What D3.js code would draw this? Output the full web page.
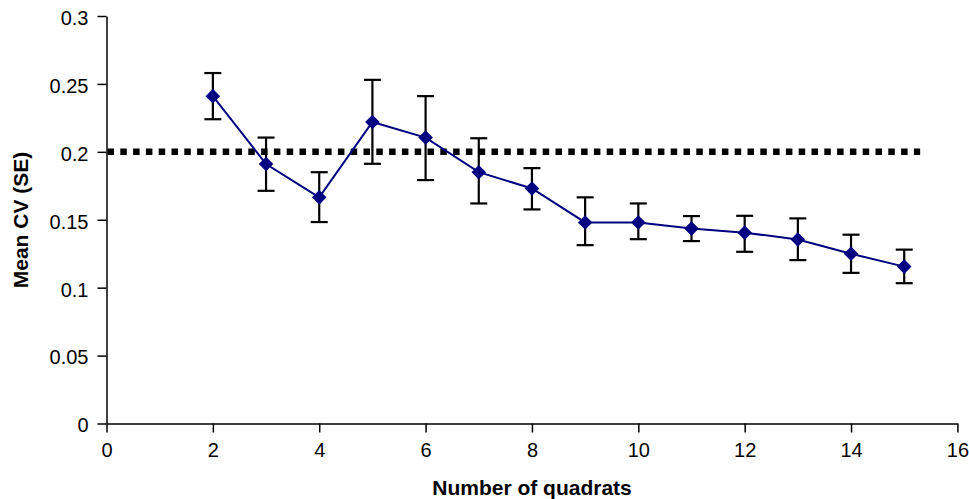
<!DOCTYPE html>
<html>
<head>
<meta charset="utf-8">
<script src="https://cdn.jsdelivr.net/npm/d3@7/dist/d3.min.js"></script>
<style>
body { margin: 0; background: #fff; }
svg { display: block; }
.axis text { font-family: "Liberation Sans", Arial, sans-serif; font-size: 20px; fill: #000; }
.axis path, .axis line { stroke: #000; stroke-width: 1.5px; }
.title { font-family: "Liberation Sans", Arial, sans-serif; font-size: 21px; font-weight: bold; fill: #000; }
</style>
</head>
<body>
<div id="chart"></div>
<script>
// ----------------------------------------------------------
// DATA -----------------------------------------------------
// ----------------------------------------------------------
var quadrats = [2, 3, 4, 5, 6, 7, 8, 9, 10, 11, 12, 13, 14, 15];
var meanCV   = [0.241, 0.191, 0.1665, 0.222, 0.2105, 0.185, 0.173, 0.148, 0.148, 0.1435, 0.1405, 0.1355, 0.125, 0.1155];
var errHigh  = [0.258, 0.2105, 0.185, 0.253, 0.241, 0.21, 0.188, 0.1665, 0.162, 0.1527, 0.1529, 0.151, 0.139, 0.128];
var errLow   = [0.224, 0.1713, 0.1483, 0.1912, 0.1792, 0.162, 0.1576, 0.1313, 0.1357, 0.1343, 0.1264, 0.1203, 0.1109, 0.1033];
// threshold line (x from, x to) at CV = 0.2
var thresholdX = [0, 15.3];
var thresholdY = 0.2;
var xTicks = [0, 2, 4, 6, 8, 10, 12, 14, 16];
var yTicks = [0, 0.05, 0.1, 0.15, 0.2, 0.25, 0.3];
var yTickLabels = ["0", "0.05", "0.1", "0.15", "0.2", "0.25", "0.3"];

// ----------------------------------------------------------
// STRUCTURE ------------------------------------------------
// ----------------------------------------------------------
var width = 969, height = 499;
var svg = d3.select("#chart").append("svg")
  .attr("width", width)
  .attr("height", height);

var xScale = d3.scaleLinear().domain([0, 16]).range([106.5, 957.4]);
var yScale = d3.scaleLinear().domain([0, 0.3]).range([423.5, 16]);

// ----------------------------------------------------------
// AXES -----------------------------------------------------
// ----------------------------------------------------------
svg.append("g")
  .attr("class", "axis")
  .attr("transform", "translate(0," + yScale(0) + ")")
  .call(d3.axisBottom(xScale).tickValues(xTicks).tickSize(9).tickPadding(10).tickSizeOuter(0).tickFormat(d3.format("d")));

svg.append("g")
  .attr("class", "axis")
  .attr("transform", "translate(" + xScale(0) + ",0)")
  .call(d3.axisLeft(yScale).tickValues(yTicks).tickSize(9).tickPadding(9).tickSizeOuter(0)
    .tickFormat(function(d, i) { return yTickLabels[i]; }))
  .call(function(g) { g.selectAll(".tick text").attr("dy", "0.42em"); });

// ----------------------------------------------------------
// GFX ------------------------------------------------------
// ----------------------------------------------------------
// dotted threshold line
svg.append("line")
  .attr("x1", xScale(thresholdX[0]) + 1)
  .attr("x2", xScale(thresholdX[1]))
  .attr("y1", yScale(thresholdY))
  .attr("y2", yScale(thresholdY))
  .style("stroke", "#000")
  .style("stroke-width", 6.5)
  .style("stroke-dasharray", "6.5,6.3");

var points = quadrats.map(function(q, i) {
  return { x: q, y: meanCV[i], hi: errHigh[i], lo: errLow[i] };
});

// error bars
var err = svg.append("g").attr("class", "errorbars")
  .style("stroke", "#000").style("stroke-width", 2.2);
err.selectAll(".stem").data(points).enter().append("line")
  .attr("x1", function(d) { return xScale(d.x); })
  .attr("x2", function(d) { return xScale(d.x); })
  .attr("y1", function(d) { return yScale(d.hi); })
  .attr("y2", function(d) { return yScale(d.lo); });
err.selectAll(".capHi").data(points).enter().append("line")
  .attr("x1", function(d) { return xScale(d.x) - 8.5; })
  .attr("x2", function(d) { return xScale(d.x) + 8.5; })
  .attr("y1", function(d) { return yScale(d.hi); })
  .attr("y2", function(d) { return yScale(d.hi); });
err.selectAll(".capLo").data(points).enter().append("line")
  .attr("x1", function(d) { return xScale(d.x) - 8.5; })
  .attr("x2", function(d) { return xScale(d.x) + 8.5; })
  .attr("y1", function(d) { return yScale(d.lo); })
  .attr("y2", function(d) { return yScale(d.lo); });

// series line
svg.append("path")
  .datum(points)
  .attr("d", d3.line().x(function(d) { return xScale(d.x); }).y(function(d) { return yScale(d.y); }))
  .style("fill", "none")
  .style("stroke", "#000080")
  .style("stroke-width", 2);

// diamond markers
svg.selectAll(".marker").data(points).enter().append("path")
  .attr("transform", function(d) { return "translate(" + xScale(d.x) + "," + yScale(d.y) + ")"; })
  .attr("d", "M0,-7.3L7.3,0L0,7.3L-7.3,0Z")
  .style("fill", "#000080");

// ----------------------------------------------------------
// TEXT -----------------------------------------------------
// ----------------------------------------------------------
svg.append("text")
  .attr("class", "title")
  .attr("x", 532)
  .attr("y", 495)
  .attr("text-anchor", "middle")
  .text("Number of quadrats");

svg.append("text")
  .attr("class", "title")
  .attr("transform", "translate(28,220) rotate(-90)")
  .attr("text-anchor", "middle")
  .text("Mean CV (SE)");
</script>
</body>
</html>
